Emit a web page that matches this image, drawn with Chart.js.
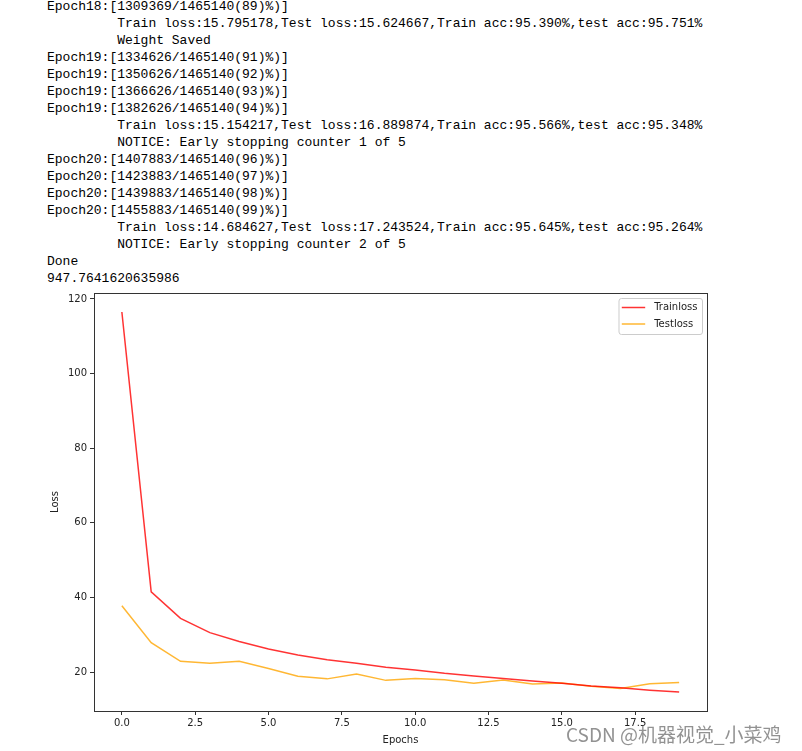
<!DOCTYPE html>
<html>
<head>
<meta charset="utf-8">
<script src="https://cdn.jsdelivr.net/npm/chart.js@4.4.0/dist/chart.umd.min.js"></script>
<style>
  html, body { margin: 0; padding: 0; background: #fff; }
  body { width: 802px; height: 751px; position: relative; overflow: hidden; }
  #log { position: absolute; left: 47px; top: -2px; margin: 0; font-family: "Liberation Mono", "DejaVu Sans Mono", monospace; font-size: 13px; line-height: 17px; color: #000; white-space: pre; }
  #wrap { position: absolute; left: 0; top: 280px; width: 802px; height: 471px; }
  #wm { position: absolute; left: 566px; top: 724px; font-family: "Noto Sans CJK SC", "Noto Sans", sans-serif; font-size: 19px; line-height: 1; color: rgba(110,110,110,0.75); white-space: nowrap; }
</style>
</head>
<body>
<pre id="log">Epoch18:[1309369/1465140(89)%)]
         Train loss:15.795178,Test loss:15.624667,Train acc:95.390%,test acc:95.751%
         Weight Saved
Epoch19:[1334626/1465140(91)%)]
Epoch19:[1350626/1465140(92)%)]
Epoch19:[1366626/1465140(93)%)]
Epoch19:[1382626/1465140(94)%)]
         Train loss:15.154217,Test loss:16.889874,Train acc:95.566%,test acc:95.348%
         NOTICE: Early stopping counter 1 of 5
Epoch20:[1407883/1465140(96)%)]
Epoch20:[1423883/1465140(97)%)]
Epoch20:[1439883/1465140(98)%)]
Epoch20:[1455883/1465140(99)%)]
         Train loss:14.684627,Test loss:17.243524,Train acc:95.645%,test acc:95.264%
         NOTICE: Early stopping counter 2 of 5
Done
947.7641620635986</pre>
<div id="wrap"><canvas id="c" width="802" height="471"></canvas></div>
<div id="wm">CSDN @机器视觉_小菜鸡</div>
<script>
const epochs    = [0, 1, 2, 3, 4, 5, 6, 7, 8, 9, 10, 11, 12, 13, 14, 15, 16, 17, 18, 19];
const trainLoss = [116.5, 41.5, 34.4, 30.6, 28.2, 26.2, 24.6, 23.3, 22.4, 21.3, 20.6, 19.7, 19.0, 18.3, 17.6, 17.0, 16.3, 15.795, 15.154, 14.685];
const testLoss  = [37.8, 27.9, 22.9, 22.4, 22.9, 21.0, 18.9, 18.2, 19.5, 17.8, 18.3, 17.95, 17.0, 17.9, 16.8, 17.1, 16.2, 15.625, 16.890, 17.244];
const xTicks    = [0, 2.5, 5, 7.5, 10, 12.5, 15, 17.5];
const yTicks    = [20, 40, 60, 80, 100, 120];
const seriesLabels = ['Trainloss', 'Testloss'];

const FONT = { family: '"DejaVu Sans", sans-serif', size: 10, lineHeight: 1.2 };
const TXT = '#222';

const framePlugin = {
  id: 'frame',
  afterDatasetsDraw(chart) {
    const { ctx, chartArea: a } = chart;
    ctx.save();
    ctx.strokeStyle = '#333';
    ctx.lineWidth = 1;
    ctx.strokeRect(Math.round(a.left) + 0.5, Math.round(a.top) + 0.5, Math.round(a.right - a.left), Math.round(a.bottom - a.top));
    ctx.restore();
  }
};

const legendPlugin = {
  id: 'mplLegend',
  afterDraw(chart) {
    const { ctx, chartArea: a } = chart;
    const ds = chart.data.datasets;
    ctx.save();
    ctx.font = '10px "DejaVu Sans", sans-serif';
    let tw = 0;
    ds.forEach(d => { tw = Math.max(tw, ctx.measureText(d.label).width); });
    const padL = 2.8, handle = 23.4, gap = 9, padR = 5;
    const w = padL + handle + gap + tw + padR;
    const h = 36;
    const right = a.right - 4.5;
    const left = right - w;
    const top = a.top + 5.5;
    ctx.fillStyle = 'rgba(255,255,255,0.8)';
    ctx.strokeStyle = '#cccccc';
    ctx.lineWidth = 1;
    ctx.beginPath();
    if (ctx.roundRect) ctx.roundRect(left, top, w, h, 2.5); else ctx.rect(left, top, w, h);
    ctx.fill();
    ctx.stroke();
    ds.forEach((d, i) => {
      const y = top + 9 + i * 16.5;
      ctx.strokeStyle = d.borderColor;
      ctx.lineWidth = 1.5;
      ctx.beginPath();
      ctx.moveTo(left + padL, y);
      ctx.lineTo(left + padL + handle, y);
      ctx.stroke();
      ctx.fillStyle = TXT;
      ctx.textBaseline = 'middle';
      ctx.textAlign = 'left';
      ctx.fillText(d.label, left + padL + handle + gap, y);
    });
    ctx.restore();
  }
};

new Chart(document.getElementById('c'), {
  type: 'line',
  data: {
    datasets: [
      { label: seriesLabels[0], data: epochs.map((e, i) => ({ x: e, y: trainLoss[i] })), borderColor: 'rgba(255,0,0,0.8)', backgroundColor: 'rgba(255,0,0,0.8)', borderWidth: 1.5, pointRadius: 0, tension: 0, fill: false },
      { label: seriesLabels[1], data: epochs.map((e, i) => ({ x: e, y: testLoss[i] })), borderColor: 'rgba(255,165,0,0.8)', backgroundColor: 'rgba(255,165,0,0.8)', borderWidth: 1.5, pointRadius: 0, tension: 0, fill: false }
    ]
  },
  options: {
    responsive: false,
    animation: false,
    devicePixelRatio: 1,
    layout: { padding: { left: 40, top: 13, right: 95, bottom: 0 } },
    plugins: { legend: { display: false }, tooltip: { enabled: false } },
    scales: {
      x: {
        type: 'linear', min: -0.95, max: 19.95,
        afterBuildTicks: s => { s.ticks = xTicks.map(v => ({ value: v })); },
        afterFit: s => { s.height = 40; },
        ticks: { callback: v => Number(v).toFixed(1), font: FONT, color: TXT, padding: 2, maxRotation: 0, autoSkip: false },
        grid: { drawOnChartArea: false, drawTicks: true, tickLength: 4, tickColor: '#333', tickWidth: 1 },
        border: { display: false },
        title: { display: true, text: 'Epochs', font: FONT, color: TXT, padding: { top: 0, bottom: 5 } }
      },
      y: {
        type: 'linear', min: 9.59, max: 121.6,
        afterBuildTicks: s => { s.ticks = yTicks.map(v => ({ value: v })); },
        afterFit: s => { s.width = 54; },
        ticks: { callback: v => String(v), font: FONT, color: TXT, padding: 3, autoSkip: false },
        grid: { drawOnChartArea: false, drawTicks: true, tickLength: 4, tickColor: '#333', tickWidth: 1 },
        border: { display: false },
        title: { display: true, text: 'Loss', font: FONT, color: TXT, padding: { top: 9, bottom: 0 } }
      }
    }
  },
  plugins: [framePlugin, legendPlugin]
});
</script>
</body>
</html>
